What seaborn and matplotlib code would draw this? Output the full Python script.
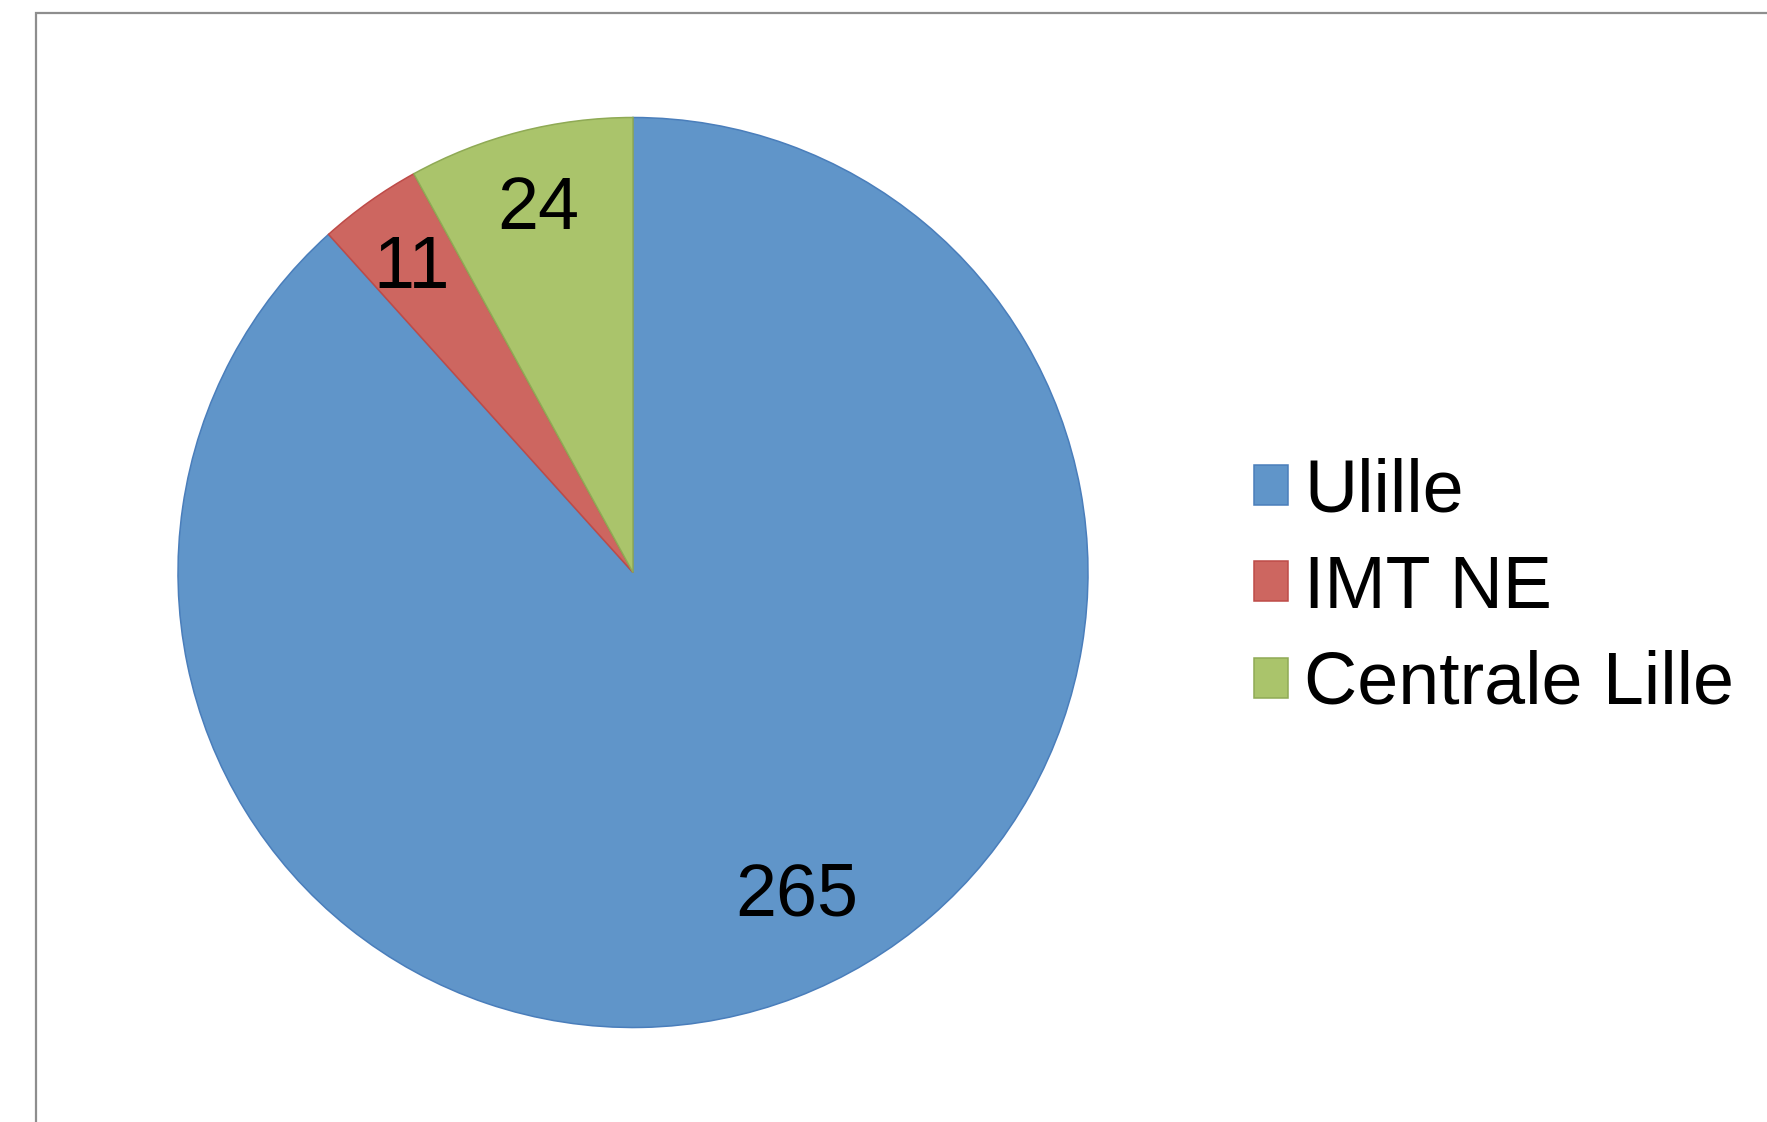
import matplotlib
matplotlib.use("Agg")
import matplotlib.pyplot as plt
import matplotlib.patches as mpatches
import seaborn as sns

# data
schools = ['Ulille', 'IMT NE', 'Centrale Lille']
counts = [265, 11, 24]
fill_colors = ['#6095C9', '#CD6660', '#AAC46B']
edge_colors = ['#4A7EBB', '#BE4B48', '#8FAA55']

sns.set_style("white")
plt.rcParams['font.family'] = ['Liberation Sans', 'DejaVu Sans']
plt.rcParams['text.color'] = 'black'

fig = plt.figure(figsize=(17.67, 11.22), dpi=100)
fig.patch.set_facecolor('white')

# chart area border (only left and top visible)
frame = mpatches.Rectangle((36/1767, -0.2), 1.2, 1.2 - 13/1122,
                           transform=fig.transFigure, fill=False,
                           edgecolor='#8E8E8E', linewidth=1.6, zorder=0)
fig.patches.append(frame)

ax = fig.add_axes([178/1767, 94.5/1122, 910/1767, 910/1122])
wedges, texts = ax.pie(counts, labels=[str(c) for c in counts],
                       colors=fill_colors, startangle=90, counterclock=False,
                       labeldistance=0.84, radius=1.0,
                       wedgeprops=dict(linewidth=1.1),
                       textprops=dict(fontsize=53, color='black'))
for w, ec in zip(wedges, edge_colors):
    w.set_edgecolor(ec)
for t in texts:
    t.set_horizontalalignment('center')
    t.set_verticalalignment('center_baseline')
# excel pushes the big label a bit round
texts[0].set_position((0.36, -0.695))

ax.set_xlim(-1.0, 1.0)
ax.set_ylim(-1.0, 1.0)
ax.set_aspect('equal')
ax.axis('off')

leg = fig.legend(wedges, schools, loc='center left',
                 bbox_to_anchor=(1254/1767, 1 - 588/1122),
                 frameon=False, fontsize=53, handlelength=0.46,
                 handleheight=0.46, handletextpad=0.22, labelspacing=0.37,
                 borderpad=0, borderaxespad=0, labelcolor='black')

fig.savefig('out.png', dpi=100, facecolor='white')
